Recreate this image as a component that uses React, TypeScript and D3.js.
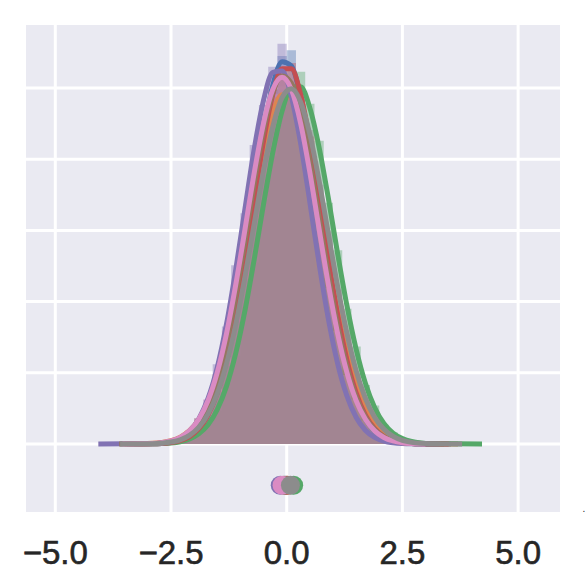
import React, { useEffect, useRef } from 'react';
import * as d3 from 'd3';

// x positions of the histogram bin centres (bin width 0.2), also used as the kde grid
const binCenters = [-2.9, -2.7, -2.5, -2.3, -2.1, -1.9, -1.7, -1.5, -1.3, -1.1, -0.9, -0.7, -0.5, -0.3, -0.1,
  0.1, 0.3, 0.5, 0.7, 0.9, 1.1, 1.3, 1.5, 1.7, 1.9, 2.1, 2.3, 2.5, 2.7, 2.9, 3.1];
const binWidth = 0.2;

const colors = ['#4C72B0', '#DD8452', '#55A868', '#C44E52', '#8172B3', '#937860', '#DA8BC3', '#8C8C8C'];

// histogram densities per series
const blueHist = [0, 0.001, 0.003, 0.004, 0.012, 0.020, 0.045, 0.072, 0.128, 0.185, 0.276, 0.352, 0.447, 0.498, 0.545, 0.553, 0.494, 0.410, 0.337, 0.240, 0.172, 0.104, 0.066, 0.033, 0.019, 0.008, 0.004, 0.002, 0.001, 0, 0];
const orangeHist = [0.001, 0.002, 0.005, 0.010, 0.018, 0.036, 0.056, 0.098, 0.140, 0.211, 0.270, 0.356, 0.410, 0.474, 0.484, 0.494, 0.448, 0.404, 0.322, 0.261, 0.182, 0.131, 0.080, 0.052, 0.028, 0.016, 0.008, 0.004, 0.002, 0.001, 0];
const greenHist = [0, 0.001, 0.001, 0.003, 0.008, 0.013, 0.029, 0.047, 0.085, 0.124, 0.193, 0.255, 0.343, 0.404, 0.474, 0.495, 0.523, 0.478, 0.426, 0.339, 0.272, 0.190, 0.137, 0.083, 0.054, 0.027, 0.016, 0.007, 0.004, 0.001, 0.001];
const redHist = [0, 0.001, 0.002, 0.005, 0.010, 0.023, 0.039, 0.075, 0.114, 0.186, 0.254, 0.350, 0.420, 0.498, 0.521, 0.535, 0.484, 0.432, 0.338, 0.265, 0.176, 0.122, 0.069, 0.042, 0.020, 0.011, 0.004, 0.002, 0.001, 0, 0];
const purpleHist = [0.001, 0.002, 0.004, 0.009, 0.017, 0.036, 0.062, 0.112, 0.165, 0.251, 0.324, 0.420, 0.476, 0.530, 0.562, 0.492, 0.416, 0.345, 0.248, 0.180, 0.110, 0.070, 0.036, 0.021, 0.009, 0.004, 0.002, 0.001, 0, 0, 0];
const brownHist = [0.001, 0.001, 0.004, 0.007, 0.016, 0.028, 0.056, 0.087, 0.146, 0.203, 0.291, 0.361, 0.446, 0.487, 0.525, 0.500, 0.470, 0.392, 0.322, 0.233, 0.170, 0.106, 0.068, 0.036, 0.021, 0.010, 0.005, 0.002, 0.001, 0, 0];
const pinkHist = [0.001, 0.002, 0.005, 0.009, 0.019, 0.033, 0.063, 0.098, 0.159, 0.219, 0.307, 0.376, 0.457, 0.492, 0.522, 0.490, 0.456, 0.376, 0.307, 0.219, 0.159, 0.097, 0.063, 0.033, 0.019, 0.009, 0.004, 0.002, 0.001, 0, 0];
const grayHist = [0.001, 0.001, 0.003, 0.006, 0.012, 0.024, 0.041, 0.073, 0.110, 0.172, 0.231, 0.316, 0.378, 0.452, 0.480, 0.506, 0.474, 0.441, 0.364, 0.300, 0.217, 0.160, 0.100, 0.066, 0.036, 0.021, 0.010, 0.005, 0.002, 0.001, 0];

// kde curves at the bin centres
const blueKde = [0.0003, 0.0008, 0.0021, 0.0049, 0.0108, 0.0221, 0.0423, 0.0749, 0.1234, 0.1897, 0.270, 0.358, 0.440, 0.504, 0.537, 0.531, 0.488, 0.417, 0.331, 0.245, 0.168, 0.107, 0.0636, 0.0350, 0.0180, 0.0086, 0.0038, 0.0016, 0.0006, 0.0002, 0.0001];
const orangeKde = [0.0009, 0.0022, 0.0047, 0.0097, 0.0188, 0.0342, 0.0588, 0.0949, 0.1441, 0.2058, 0.2766, 0.3497, 0.4163, 0.4659, 0.4907, 0.4862, 0.4533, 0.3977, 0.3281, 0.2548, 0.1861, 0.1278, 0.0827, 0.0503, 0.0288, 0.0155, 0.0079, 0.0037, 0.0017, 0.0007, 0.0003];
const greenKde = [0.0002, 0.0006, 0.0014, 0.0032, 0.0070, 0.0143, 0.0271, 0.0485, 0.0813, 0.1278, 0.1882, 0.2602, 0.3372, 0.4098, 0.4676, 0.5001, 0.5017, 0.4721, 0.4166, 0.3451, 0.2676, 0.1948, 0.1332, 0.0853, 0.0513, 0.0289, 0.0153, 0.0076, 0.0035, 0.0015, 0.0006];
const redKde = [0.0003, 0.0008, 0.0021, 0.0048, 0.0105, 0.0215, 0.0407, 0.0720, 0.1184, 0.1815, 0.259, 0.344, 0.426, 0.491, 0.527, 0.527, 0.491, 0.426, 0.344, 0.259, 0.1815, 0.1184, 0.0720, 0.0407, 0.0215, 0.0105, 0.0048, 0.0021, 0.0008, 0.0003, 0.0001];
const purpleKde = [0.0006, 0.0015, 0.0038, 0.0086, 0.0180, 0.0352, 0.0640, 0.1078, 0.1688, 0.2454, 0.3312, 0.4151, 0.4831, 0.5221, 0.5240, 0.4884, 0.4227, 0.3399, 0.2537, 0.1758, 0.1132, 0.0677, 0.0375, 0.0194, 0.0093, 0.0041, 0.0017, 0.0006, 0.0002, 0.0001, 0];
const brownKde = [0.0006, 0.0015, 0.0034, 0.0075, 0.0155, 0.0298, 0.0536, 0.0901, 0.1418, 0.208, 0.2855, 0.3667, 0.440, 0.4937, 0.517, 0.507, 0.4644, 0.3977, 0.318, 0.238, 0.1666, 0.109, 0.0665, 0.0380, 0.0203, 0.0102, 0.0047, 0.0021, 0.0008, 0.0003, 0.0001];
const pinkKde = [0.0008, 0.0019, 0.0043, 0.0092, 0.0184, 0.0347, 0.0610, 0.1007, 0.1553, 0.224, 0.302, 0.3816, 0.4506, 0.498, 0.515, 0.498, 0.4506, 0.3816, 0.302, 0.224, 0.1553, 0.1007, 0.0610, 0.0347, 0.0184, 0.0092, 0.0043, 0.0019, 0.0008, 0.0003, 0.0001];
const grayKde = [0.0005, 0.0012, 0.0028, 0.0059, 0.0122, 0.0233, 0.0420, 0.0709, 0.1128, 0.1682, 0.2357, 0.310, 0.3837, 0.4458, 0.4865, 0.499, 0.4806, 0.4347, 0.3696, 0.2951, 0.2214, 0.156, 0.1031, 0.0643, 0.0375, 0.0206, 0.0106, 0.0051, 0.0023, 0.0010, 0.0004];

// where each kde line starts and ends (flat tails)
const kdeMin = [-3.45, -3.5, -3.3, -3.4, -4.07, -3.62, -3.55, -3.6];
const kdeMax = [3.55, 3.7, 4.22, 3.5, 3.3, 3.4, 3.0, 3.79];

// means shown as points under the curves
const means = [-0.03, 0.02, 0.15, 0.0, -0.14, -0.06, -0.10, 0.08];
const pointY = -0.058;

const xTicks = [-5, -2.5, 0, 2.5, 5];
const xTickLabels = ['\u22125.0', '\u22122.5', '0.0', '2.5', '5.0'];
const yGrid = [0, 0.1, 0.2, 0.3, 0.4, 0.5];

const hists = [blueHist, orangeHist, greenHist, redHist, purpleHist, brownHist, pinkHist, grayHist];
const kdes = [blueKde, orangeKde, greenKde, redKde, purpleKde, brownKde, pinkKde, grayKde];

const App = () => {
  const svgRef = useRef(null);

  useEffect(() => {
    const svg = d3.select(svgRef.current);
    svg.selectAll('*').remove();

    const plot = { left: 26, right: 560, top: 25, bottom: 512 };

    const x = d3.scaleLinear().domain([-5.633, 5.905]).range([plot.left, plot.right]);
    const y = d3.scaleLinear().domain([-0.0955, 0.5885]).range([plot.bottom, plot.top]);

    // background
    svg.append('rect')
      .attr('x', plot.left)
      .attr('y', plot.top)
      .attr('width', plot.right - plot.left)
      .attr('height', plot.bottom - plot.top)
      .attr('fill', '#EAEAF2');

    // grid
    svg.append('g')
      .selectAll('line')
      .data(xTicks)
      .enter()
      .append('line')
      .attr('x1', d => x(d))
      .attr('x2', d => x(d))
      .attr('y1', plot.top)
      .attr('y2', plot.bottom)
      .attr('stroke', '#fff')
      .attr('stroke-width', 3);

    svg.append('g')
      .selectAll('line')
      .data(yGrid)
      .enter()
      .append('line')
      .attr('x1', plot.left)
      .attr('x2', plot.right)
      .attr('y1', d => y(d))
      .attr('y2', d => y(d))
      .attr('stroke', '#fff')
      .attr('stroke-width', 3);

    const histArea = d3.area()
      .x(d => x(d[0]))
      .y0(y(0))
      .y1(d => y(d[1]))
      .curve(d3.curveStepAfter);

    const kdeLine = d3.line()
      .x(d => x(d[0]))
      .y(d => y(d[1]))
      .curve(d3.curveMonotoneX);

    // all histograms first (patches sit under lines)
    const gh = svg.append('g');
    hists.forEach((hist, i) => {
      const steps = binCenters.map((c, j) => [c - binWidth / 2, hist[j]]);
      steps.push([binCenters[binCenters.length - 1] + binWidth / 2, hist[hist.length - 1]]);

      gh.append('path')
        .attr('d', histArea(steps))
        .attr('fill', colors[i])
        .attr('fill-opacity', 0.4);
    });

    // then kde lines
    const gl = svg.append('g');
    kdes.forEach((kde, i) => {
      const pts = [[kdeMin[i], 0]];
      binCenters.forEach((c, j) => {
        if (c > kdeMin[i] && c < kdeMax[i]) pts.push([c, kde[j]]);
      });
      pts.push([kdeMax[i], 0]);

      gl.append('path')
        .attr('d', kdeLine(pts))
        .attr('fill', 'none')
        .attr('stroke', colors[i])
        .attr('stroke-width', 5)
        .attr('stroke-linejoin', 'round');
    });

    // mean points
    svg.append('g')
      .selectAll('circle')
      .data(means)
      .enter()
      .append('circle')
      .attr('cx', d => x(d))
      .attr('cy', y(pointY))
      .attr('r', 9.5)
      .attr('fill', (d, i) => colors[i]);

    // x tick labels
    svg.append('g')
      .attr('font-family', '"Liberation Sans", Arial, sans-serif')
      .attr('font-size', 33)
      .attr('fill', '#262626')
      .attr('stroke', '#262626')
      .attr('stroke-width', 0.6)
      .attr('text-anchor', 'middle')
      .selectAll('text')
      .data(xTicks)
      .enter()
      .append('text')
      .attr('x', d => x(d))
      .attr('y', 564)
      .text((d, i) => xTickLabels[i]);

    svg.append('text')
      .attr('x', 584)
      .attr('y', 512)
      .attr('font-family', '"Liberation Sans", Arial, sans-serif')
      .attr('font-size', 10)
      .attr('fill', '#262626')
      .attr('text-anchor', 'middle')
      .text('.');
  }, []);

  return (
    <svg ref={svgRef} width={586} height={588}
      style={{ position: 'absolute', left: 0, top: 0, background: '#fff' }} />
  );
};

export default App;
